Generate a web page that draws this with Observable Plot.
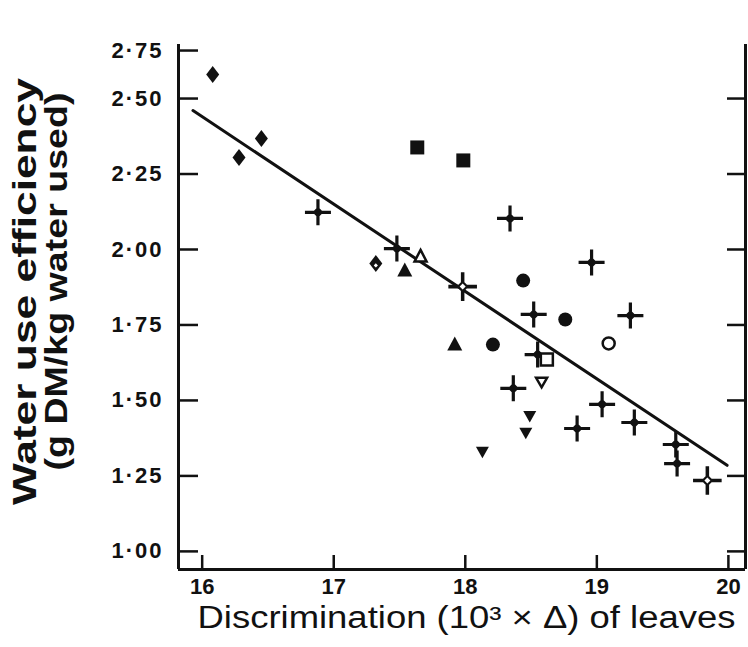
<!DOCTYPE html>
<html><head><meta charset="utf-8">
<script src="https://cdn.jsdelivr.net/npm/d3@7"></script>
<script src="https://cdn.jsdelivr.net/npm/@observablehq/plot@0.6"></script>
<style>body{margin:0;background:#fff;font-family:"Liberation Sans",Arial,sans-serif;}</style>
</head><body><div id="chart"></div>
<script>
// ---- axes ----
const xDomain = [15.82, 20.13];
const yBottom = 0.94;
const xTicks = [16, 17, 18, 19, 20];
const yTicks = [1.00, 1.25, 1.50, 1.75, 2.00, 2.25, 2.50, 2.75];
const yRightTicks = [1.00, 1.25, 1.50, 1.75, 2.00, 2.25, 2.50];
const xTitle = "Discrimination (10³ × Δ) of leaves";
const yTitle1 = "Water use efficiency";
const yTitle2 = "(g DM/kg water used)";

// ---- data series ----
const diamondX = [16.08, 16.28, 16.45];
const diamondY = [2.625, 2.305, 2.368];
const notchDiamondX = [17.32];
const notchDiamondY = [1.954];
const squareX = [17.635, 17.985];
const squareY = [2.338, 2.295];
const circleX = [18.44, 18.76, 18.21];
const circleY = [1.897, 1.768, 1.685];
const openCircleX = [19.09];
const openCircleY = [1.689];
const triUpX = [17.54, 17.92];
const triUpY = [1.930, 1.685];
const openTriUpX = [17.66];
const openTriUpY = [1.977];
const triDownX = [18.13, 18.49, 18.46];
const triDownY = [1.328, 1.447, 1.391];
const openTriDownX = [18.58];
const openTriDownY = [1.560];
const openSquareX = [18.62];
const openSquareY = [1.636];
const crossX = [16.88, 17.48, 18.34, 18.52, 18.365, 18.96, 19.255, 19.04, 18.85, 19.285, 19.60, 19.61, 18.55];
const crossY = [2.123, 2.003, 2.103, 1.785, 1.540, 1.957, 1.781, 1.487, 1.407, 1.427, 1.354, 1.291, 1.652];
const openCrossX = [17.98, 19.84];
const openCrossY = [1.877, 1.235];
const lineX = [15.93, 19.99];
const lineY = [2.460, 1.285];

const pts = (xs, ys) => xs.map((x, i) => ({x, y: ys[i]}));

// the printed axis is compressed above 2.50 (2.50→2.75 spans ~64% of a normal step)
const yWarp = v => v <= 2.5 ? v : 2.5 + (v - 2.5) * 0.636;

// ---- custom symbols (unit = r) ----
const k = s => Math.sqrt(s / Math.PI);
const diamondSym = {draw(c, s){const u=k(s); c.moveTo(0,-8.5*u); c.lineTo(6.5*u,0); c.lineTo(0,8.5*u); c.lineTo(-6.5*u,0); c.closePath();}};
const smallDiamondSym = {draw(c, s){const u=k(s); c.moveTo(0,-3*u); c.lineTo(3*u,0); c.lineTo(0,3*u); c.lineTo(-3*u,0); c.closePath();}};
const squareSym = {draw(c, s){const u=k(s); c.rect(-7*u,-7*u,14*u,14*u);}};
const openSquareSym = {draw(c, s){const u=k(s); c.rect(-6*u,-6*u,12*u,12*u);}};
const triUpSym = {draw(c, s){const u=k(s); c.moveTo(0,-8*u); c.lineTo(7.5*u,6*u); c.lineTo(-7.5*u,6*u); c.closePath();}};
const openTriUpSym = {draw(c, s){const u=k(s); c.moveTo(0,-6.5*u); c.lineTo(6*u,5*u); c.lineTo(-6*u,5*u); c.closePath();}};
const triDownSym = {draw(c, s){const u=k(s); c.moveTo(0,6*u); c.lineTo(6.5*u,-5.5*u); c.lineTo(-6.5*u,-5.5*u); c.closePath();}};
const openTriDownSym = {draw(c, s){const u=k(s); c.moveTo(0,5*u); c.lineTo(5.5*u,-4.5*u); c.lineTo(-5.5*u,-4.5*u); c.closePath();}};
const crossSym = {draw(c, s){const u=k(s), L=13*u, w=1.6*u, d=5.5*u;
  c.moveTo(-L,-w); c.lineTo(L,-w); c.lineTo(L,w); c.lineTo(-L,w); c.closePath();
  c.moveTo(-w,-L); c.lineTo(w,-L); c.lineTo(w,L); c.lineTo(-w,L); c.closePath();
  c.moveTo(0,-d); c.lineTo(d,0); c.lineTo(0,d); c.lineTo(-d,0); c.closePath();}};

const ink = "#111";

const plot = Plot.plot({
  width: 748, height: 647,
  marginLeft: 178, marginRight: 3, marginTop: 44, marginBottom: 78,
  style: {background: "#fff", fontFamily: "'Liberation Sans', Arial, sans-serif", color: ink},
  x: {domain: xDomain},
  y: {transform: yWarp, domain: [yBottom, 2.679]},
  marks: [
    // frame (open at top)
    Plot.ruleX(xDomain, {stroke: ink, strokeWidth: 3}),
    Plot.ruleY([yBottom], {stroke: ink, strokeWidth: 3}),
    // inward ticks
    Plot.tickY(yTicks, {y: d => d, insetRight: 547, stroke: ink, strokeWidth: 2.5}),
    Plot.tickY(yRightTicks, {y: d => d, insetLeft: 549, stroke: ink, strokeWidth: 2.5}),
    Plot.tickX(xTicks, {x: d => d, insetTop: 511, stroke: ink, strokeWidth: 2.5}),
    // tick labels
    Plot.axisY(yTicks, {anchor: "left", tickSize: 0, tickPadding: 15, label: null,
      tickFormat: d => d.toFixed(2).replace(".", "·"), fontSize: 22, fontWeight: "bold", fill: ink}),
    Plot.axisX(xTicks, {anchor: "bottom", tickSize: 0, tickPadding: 9, label: null,
      tickFormat: d => String(d), fontSize: 22, fontWeight: "bold", fill: ink}),
    // titles
    Plot.text([yTitle1], {frameAnchor: "left", textAnchor: "middle", lineAnchor: "middle", rotate: -90, dx: -153, dy: -15.5, fontSize: 34, fontWeight: "bold", fill: ink}),
    Plot.text([yTitle2], {frameAnchor: "left", textAnchor: "middle", lineAnchor: "middle", rotate: -90, dx: -122, dy: -25.5, fontSize: 32, fontWeight: "bold", fill: ink}),
    Plot.text([xTitle], {frameAnchor: "bottom", textAnchor: "middle", lineAnchor: "middle", dx: 4.5, dy: 49, fontSize: 31, fill: ink}),
    // regression line
    Plot.line(pts(lineX, lineY), {x: "x", y: "y", stroke: ink, strokeWidth: 3}),
    // points
    Plot.dot(pts(diamondX, diamondY), {x: "x", y: "y", symbol: diamondSym, r: 1, fill: ink}),
    Plot.dot(pts(notchDiamondX, notchDiamondY), {x: "x", y: "y", symbol: diamondSym, r: 1, fill: ink}),
    Plot.dot(pts(notchDiamondX, notchDiamondY), {x: "x", y: "y", symbol: smallDiamondSym, r: 0.7, dy: 2, fill: "#fff"}),
    Plot.dot(pts(squareX, squareY), {x: "x", y: "y", symbol: squareSym, r: 1, fill: ink}),
    Plot.dot(pts(circleX, circleY), {x: "x", y: "y", symbol: "circle", r: 7, fill: ink}),
    Plot.dot(pts(openCircleX, openCircleY), {x: "x", y: "y", symbol: "circle", r: 6, fill: "#fff", stroke: ink, strokeWidth: 2.5}),
    Plot.dot(pts(triUpX, triUpY), {x: "x", y: "y", symbol: triUpSym, r: 1, fill: ink}),
    Plot.dot(pts(openTriUpX, openTriUpY), {x: "x", y: "y", symbol: openTriUpSym, r: 1, fill: "#fff", stroke: ink, strokeWidth: 2.5}),
    Plot.dot(pts(triDownX, triDownY), {x: "x", y: "y", symbol: triDownSym, r: 1, fill: ink}),
    Plot.dot(pts(openTriDownX, openTriDownY), {x: "x", y: "y", symbol: openTriDownSym, r: 1, fill: "#fff", stroke: ink, strokeWidth: 2.5}),
    Plot.dot(pts(crossX, crossY), {x: "x", y: "y", symbol: crossSym, r: 1, fill: ink}),
    Plot.dot(pts(openCrossX, openCrossY), {x: "x", y: "y", symbol: crossSym, r: 1.1, fill: ink}),
    Plot.dot(pts(openCrossX, openCrossY), {x: "x", y: "y", symbol: smallDiamondSym, r: 1, fill: "#fff"}),
    Plot.dot(pts(openSquareX, openSquareY), {x: "x", y: "y", symbol: openSquareSym, r: 1, fill: "#fff", stroke: ink, strokeWidth: 2.5})
  ]
});

// stretch titles to the reference's lengths, widen tick-label spacing
const sel = d3.select(plot);
sel.selectAll("text").each(function() {
  const t = this.textContent;
  if (t === yTitle1) { this.setAttribute("textLength", 427); this.setAttribute("lengthAdjust", "spacingAndGlyphs"); }
  else if (t === yTitle2) { this.setAttribute("textLength", 378); this.setAttribute("lengthAdjust", "spacingAndGlyphs"); }
  else if (t === xTitle) { this.setAttribute("textLength", 538); this.setAttribute("lengthAdjust", "spacingAndGlyphs"); }
  else if (/^\d·\d\d$/.test(t)) { this.style.letterSpacing = "2px"; }
});
document.getElementById("chart").appendChild(plot);
</script>
</body></html>
